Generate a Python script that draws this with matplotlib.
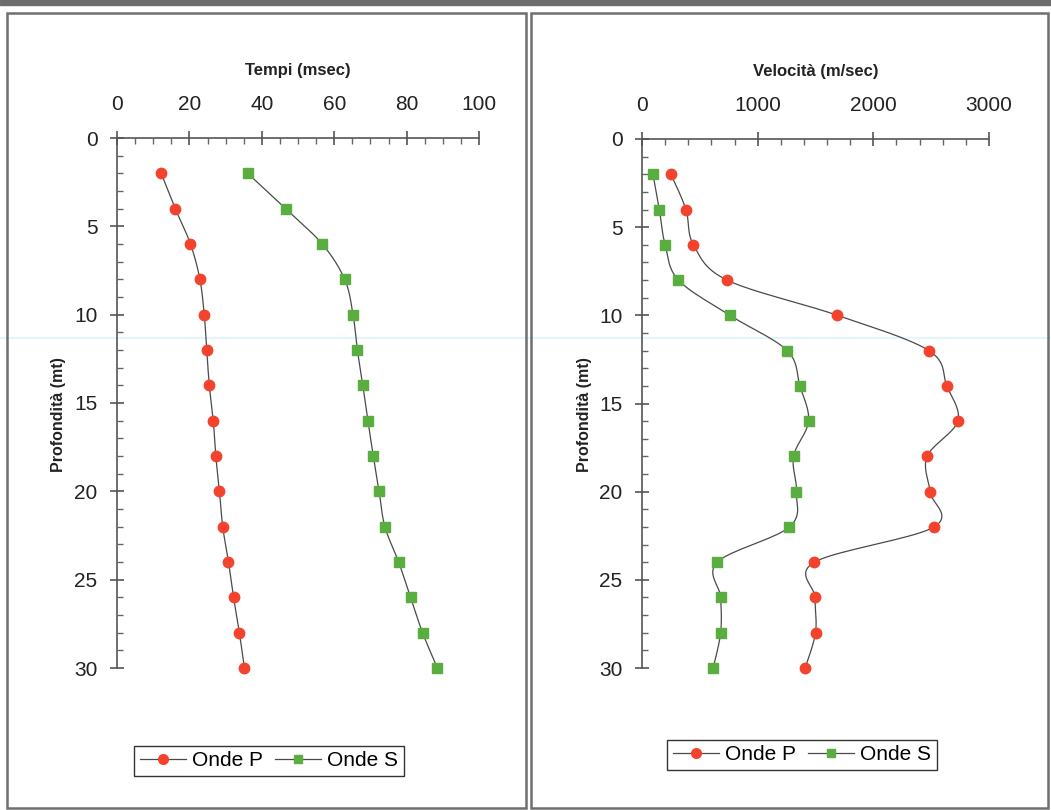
import numpy as np
import matplotlib
matplotlib.use("Agg")
import matplotlib.pyplot as plt
from matplotlib.patches import Rectangle
from matplotlib.lines import Line2D
from matplotlib.ticker import MultipleLocator

plt.rcParams['font.family'] = ['Liberation Sans', 'DejaVu Sans']

# depths (m)
depth = [2, 4, 6, 8, 10, 12, 14, 16, 18, 20, 22, 24, 26, 28, 30]

# travel times (msec)
tempi_p = [12.2, 16.1, 20.3, 22.9, 24.1, 24.8, 25.5, 26.6, 27.3, 28.3, 29.2, 30.8, 32.2, 33.8, 35.2]
tempi_s = [36.1, 46.6, 56.7, 62.9, 65.2, 66.4, 67.9, 69.3, 70.8, 72.4, 74.0, 77.8, 81.1, 84.4, 88.5]

# velocities (m/sec)
vel_p = [250, 380, 445, 735, 1690, 2480, 2635, 2730, 2465, 2490, 2525, 1490, 1495, 1500, 1410]
vel_s = [95, 150, 200, 315, 760, 1255, 1365, 1440, 1310, 1335, 1275, 650, 680, 680, 615]

p_color = '#f4432c'
s_color = '#5aad3f'
line_color = '#4a4a4a'


def smooth(x, y, n=20):
    # catmull-rom curve through the points (like excel smoothed lines)
    pts = np.column_stack([x, y]).astype(float)
    out = []
    for i in range(len(pts) - 1):
        p0 = pts[i - 1] if i > 0 else pts[i]
        p1 = pts[i]
        p2 = pts[i + 1]
        p3 = pts[i + 2] if i + 2 < len(pts) else pts[i + 1]
        t = np.linspace(0, 1, n)[:, None]
        seg = 0.5 * ((2 * p1) + (-p0 + p2) * t
                     + (2 * p0 - 5 * p1 + 4 * p2 - p3) * t ** 2
                     + (-p0 + 3 * p1 - 3 * p2 + p3) * t ** 3)
        out.append(seg)
    out = np.vstack(out)
    return out[:, 0], out[:, 1]


def draw_panel(ax, xp, xs, xmax, xmajor, xminor, title):
    for vals, col, mk, ms in [(xp, p_color, 'o', 7.5), (xs, s_color, 's', 6.5)]:
        sx, sy = smooth(vals, depth)
        ax.plot(sx, sy, color=line_color, lw=0.9, zorder=2, clip_on=False)
        ax.plot(vals, depth, ls='none', marker=mk, ms=ms, color=col,
                mec=col, zorder=3, clip_on=False)
    ax.set_xlim(0, xmax)
    ax.set_ylim(30, 0)
    for s in ['right', 'bottom']:
        ax.spines[s].set_visible(False)
    for s in ['left', 'top']:
        ax.spines[s].set_color('#555555')
        ax.spines[s].set_linewidth(1.2)
    ax.xaxis.tick_top()
    ax.xaxis.set_major_locator(MultipleLocator(xmajor))
    ax.xaxis.set_minor_locator(MultipleLocator(xminor))
    ax.yaxis.set_major_locator(MultipleLocator(5))
    ax.yaxis.set_minor_locator(MultipleLocator(1))
    ax.tick_params(axis='x', which='major', direction='inout', length=10,
                   width=1.2, color='#555555', labelsize=15, pad=12.5,
                   labelcolor='#222222')
    ax.tick_params(axis='y', which='major', direction='inout', length=10,
                   width=1.2, color='#555555', labelsize=15, pad=9,
                   labelcolor='#222222')
    ax.tick_params(which='minor', direction='in', length=4, width=1,
                   color='#666666')
    ax.tick_params(axis='x', which='minor', top=True, bottom=False)
    ax.set_xlabel(title, fontsize=12, fontweight='bold', labelpad=14,
                  color='#222222')
    ax.xaxis.set_label_position('top')
    ax.patch.set_alpha(0)


fig = plt.figure(figsize=(10.51, 8.10), dpi=100)
W, H = 1051, 810


def fx(px):
    return px / W


def fy(py):
    return 1 - py / H


# scan artifacts: dark strip on top, faint cyan line
fig.patches.append(Rectangle((0, fy(5)), 1, 5 / H, transform=fig.transFigure,
                             color='#6d6d6d', zorder=0))
fig.add_artist(Line2D([0, 1], [fy(338), fy(338)], transform=fig.transFigure,
                      color='#e3f6f9', lw=1.5, zorder=0))

# panel frames
for x0, x1 in [(7, 526), (531, 1048)]:
    fig.patches.append(Rectangle((fx(x0), fy(808)), fx(x1 - x0), (808 - 13) / H,
                                 transform=fig.transFigure, fill=False,
                                 edgecolor='#6f6f6f', lw=1.8, zorder=0))

ax1 = fig.add_axes([fx(117), fy(668), fx(479 - 117), (668 - 138) / H])
draw_panel(ax1, tempi_p, tempi_s, 100, 20, 5, 'Tempi (msec)')

ax2 = fig.add_axes([fx(642), fy(668), fx(989 - 642), (668 - 139) / H])
draw_panel(ax2, vel_p, vel_s, 3000, 1000, 200, 'Velocità (m/sec)')

fig.text(fx(58), fy(415), 'Profondità (mt)', rotation=90, ha='center',
         va='center', fontsize=11.5, fontweight='bold', color='#222222')
fig.text(fx(585), fy(415), 'Profondità (mt)', rotation=90, ha='center',
         va='center', fontsize=11.5, fontweight='bold', color='#222222')

handles = [Line2D([], [], color=line_color, lw=0.9, marker='o', ms=7,
                  mfc=p_color, mec=p_color),
           Line2D([], [], color=line_color, lw=0.9, marker='s', ms=6,
                  mfc=s_color, mec=s_color)]
labels = ['Onde P', 'Onde S']
for cx, cy in [(269, 761), (802, 755)]:
    leg = fig.legend(handles, labels, loc='center', ncol=2,
                     bbox_to_anchor=(fx(cx), fy(cy)),
                     bbox_transform=fig.transFigure, fontsize=15,
                     frameon=True, fancybox=False, edgecolor='#333333',
                     framealpha=1, handlelength=2.2, handletextpad=0.3,
                     columnspacing=0.6, borderpad=0.25, borderaxespad=0)
    leg.get_frame().set_linewidth(1.0)

fig.savefig('out.png', dpi=100)
